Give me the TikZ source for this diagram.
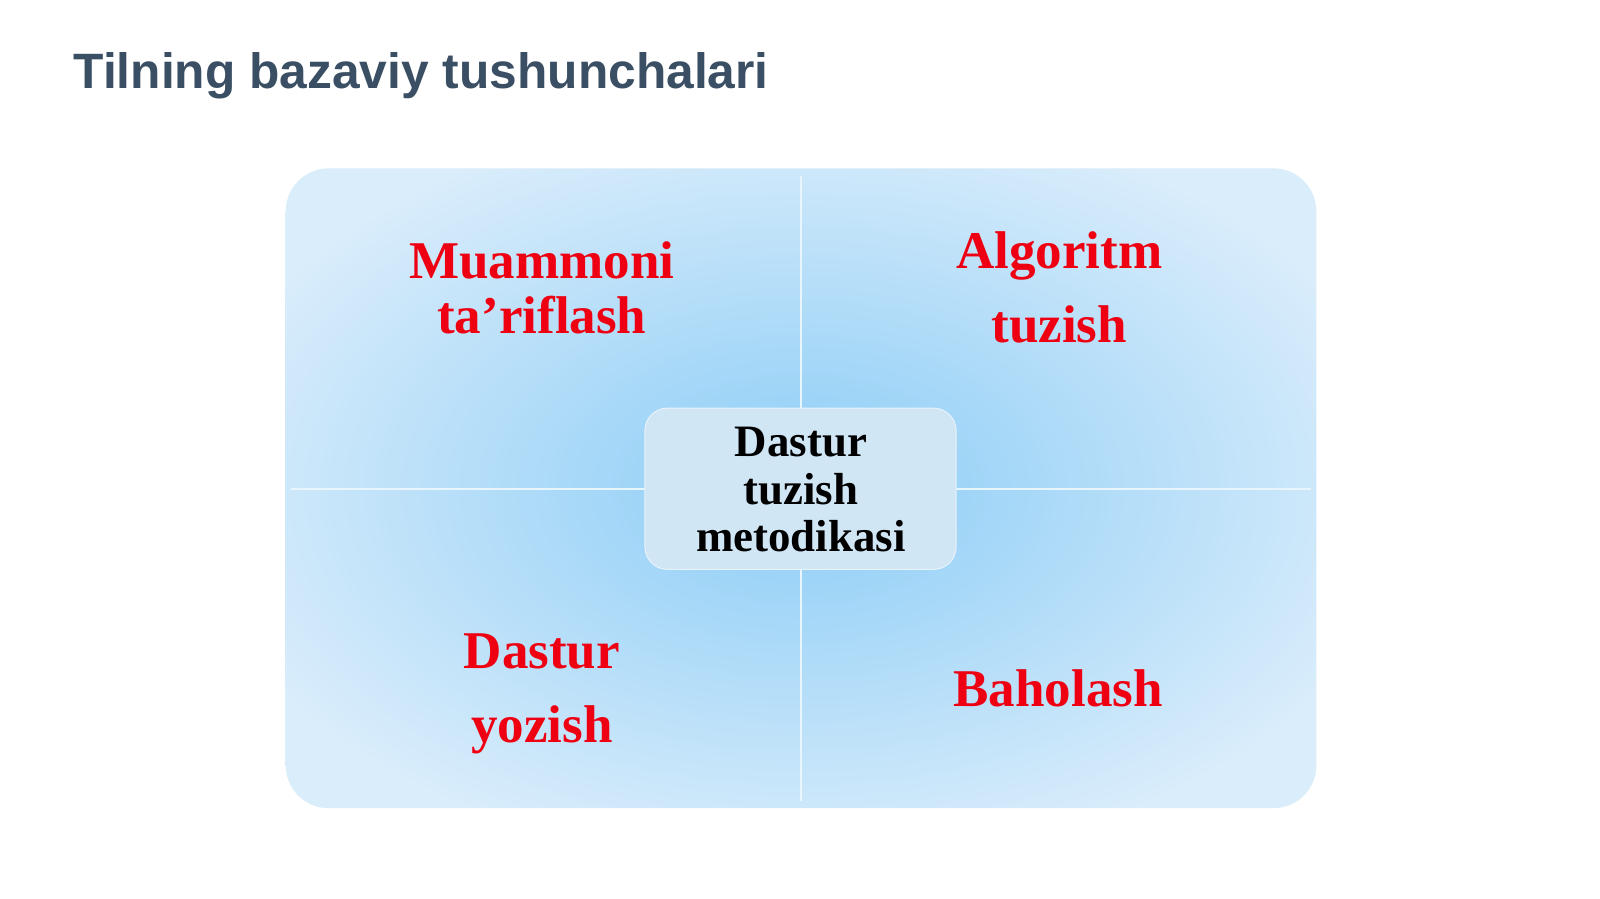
\documentclass[tikz,border=0pt]{standalone}
\usepackage{fontspec}
\setmainfont{Liberation Serif}
\newfontfamily\titlefont{Liberation Sans}
\definecolor{titlecol}{RGB}{58,79,99}
\definecolor{redtxt}{RGB}{238,0,18}
\definecolor{cIn}{RGB}{155,211,247}
\definecolor{cOut}{RGB}{218,237,251}
\definecolor{boxfill}{RGB}{208,230,245}
\definecolor{divcol}{RGB}{232,245,253}
\pgfdeclareradialshading{panelshade}{\pgfpointorigin}{color(0bp)=(cIn); color(6bp)=(cIn); color(30bp)=(cOut); color(50bp)=(cOut)}
\tikzset{
  titlestyle/.style={inner sep=0pt, anchor=base west, text=titlecol, font=\titlefont\bfseries\fontsize{48.7}{56}\selectfont},
  redlabel/.style={inner sep=0pt, anchor=base, text=redtxt, font=\bfseries\fontsize{52}{56}\selectfont},
  centerlabel/.style={inner sep=0pt, anchor=base, text=black, font=\bfseries\fontsize{44}{48}\selectfont},
  divider/.style={draw=divcol, line width=2pt},
}
\begin{document}
\begin{tikzpicture}[x=1pt,y=-1pt]
\useasboundingbox[fill=white] (0,0) rectangle (1568,881);
% title
\node[titlestyle] (title) at (72,87) {Tilning bazaviy tushunchalari};
% panel
\shade[shading=panelshade, rounded corners=42pt] (280,165) rectangle (1290,792);
\coordinate (vtop) at (785,172);
\coordinate (vbot) at (785,785);
\coordinate (hl) at (285,479);
\coordinate (hr) at (1285,479);
\draw[divider] (vtop) -- (vbot);
\draw[divider] (hl) -- (hr);
% center box
\node[draw=white!50!boxfill, line width=1pt, fill=boxfill, rounded corners=22pt, minimum width=305pt, minimum height=158pt] (cbox) at (784.5,479) {};
\node[centerlabel] (c1) at (785,447) {Dastur};
\node[centerlabel] (c2) at (785,494) {tuzish};
\node[centerlabel] (c3) at (785,540) {metodikasi};
% quadrant labels
\node[redlabel] (tl1) at (531,273) {Muammoni};
\node[redlabel] (tl2) at (531,327) {ta’riflash};
\node[redlabel] (tr1) at (1038,263) {Algoritm};
\node[redlabel] (tr2) at (1038,336) {tuzish};
\node[redlabel] (bl1) at (531,655) {Dastur};
\node[redlabel] (bl2) at (531,728) {yozish};
\node[redlabel] (br) at (1037,692) {Baholash};
\end{tikzpicture}
\end{document}
